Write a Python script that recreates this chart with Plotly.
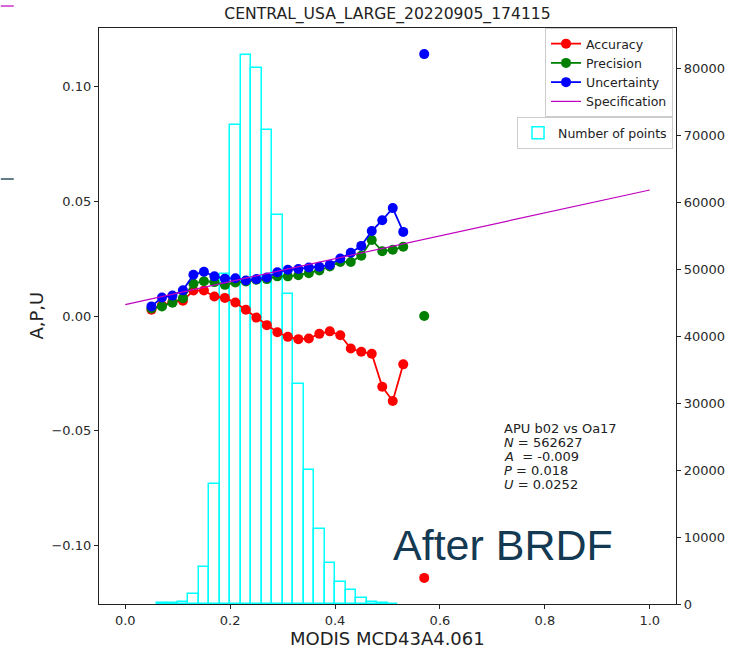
import plotly.graph_objects as go

# ---------------- data ----------------
title_text = "CENTRAL_USA_LARGE_20220905_174115"

x_centres = [0.05, 0.07, 0.09, 0.11, 0.13, 0.15, 0.17, 0.19, 0.21, 0.23, 0.25, 0.27, 0.29,
             0.31, 0.33, 0.35, 0.37, 0.39, 0.41, 0.43, 0.45, 0.47, 0.49, 0.51, 0.53, 0.55, 0.57]

accuracy = [0.0027, 0.0047, 0.0062, 0.0067, 0.0111, 0.0111, 0.0085, 0.0079, 0.0059, 0.0027,
            -0.0007, -0.0040, -0.0071, -0.0091, -0.0101, -0.0098, -0.0078, -0.0067, -0.0084,
            -0.0142, -0.0156, -0.0165, -0.0309, -0.0371, -0.0211, None, -0.1143]

precision = [0.0033, 0.0042, 0.0058, 0.0078, 0.0141, 0.0152, 0.0148, 0.0136, 0.0146, 0.0151,
             0.0158, 0.0161, 0.0173, 0.0173, 0.0178, 0.0187, 0.0199, 0.0216, 0.0236, 0.0236,
             0.0263, 0.0332, 0.0283, 0.0289, 0.0302, None, 0.0000]

uncertainty = [0.0042, 0.0081, 0.0089, 0.0112, 0.0180, 0.0193, 0.0173, 0.0163, 0.0165, 0.0155,
               0.0161, 0.0168, 0.0191, 0.0202, 0.0205, 0.0212, 0.0215, 0.0223, 0.0251, 0.0276,
               0.0306, 0.0371, 0.0418, 0.0471, 0.0367, None, 0.1143]

spec_x = [0.0, 1.0]
spec_y = [0.005, 0.055]

hist_bin_left = [0.06, 0.08, 0.10, 0.12, 0.14, 0.16, 0.18, 0.20, 0.22, 0.24, 0.26, 0.28,
                 0.30, 0.32, 0.34, 0.36, 0.38, 0.40, 0.42, 0.44, 0.46, 0.48, 0.50]
hist_counts = [100, 200, 300, 1450, 5500, 18000, 49400, 71600, 82000, 80100, 70800, 58200,
               46400, 32900, 20000, 11200, 6100, 3300, 2100, 850, 250, 80, 30]

stats_lines = ["APU b02 vs Oa17", "<i>N</i> = 562627", "<i>A</i>\u00a0 = -0.009",
               "<i>P</i> = 0.018", "<i>U</i> = 0.0252"]

# ---------------- layout geometry ----------------
W, H = 737, 649
L, R, T, B = 99, 56, 28, 45
PW, PH = W - L - R, H - T - B


def px_x(px):
    return (px - L) / PW


def px_y(py):
    return (H - B - py) / PH


FONT = "DejaVu Sans"
fig = go.Figure()

# histogram (right axis, drawn underneath)
fig.add_trace(go.Bar(
    x=hist_bin_left, y=hist_counts, width=0.02, offset=0,
    marker=dict(color="rgba(0,0,0,0)", line=dict(color="#00FFFF", width=1.5)),
    name="Number of points", legend="legend2", yaxis="y", xaxis="x",
))

for name, vals, col in [("Accuracy", accuracy, "#FF0000"),
                        ("Precision", precision, "#008000"),
                        ("Uncertainty", uncertainty, "#0000FF")]:
    fig.add_trace(go.Scatter(
        x=x_centres, y=vals, mode="lines+markers", name=name,
        line=dict(color=col, width=1.8), marker=dict(color=col, size=10),
        yaxis="y2", legend="legend", connectgaps=False,
    ))

fig.add_trace(go.Scatter(
    x=spec_x, y=spec_y, mode="lines", name="Specification",
    line=dict(color="#BF00BF", width=1.2), yaxis="y2", legend="legend",
))

axis_common = dict(showgrid=False, zeroline=False, showline=True, linecolor="#222",
                   linewidth=1.2, ticks="outside", ticklen=4, tickcolor="#222",
                   tickfont=dict(family=FONT, size=13, color="#2a2a2a"))

fig.update_layout(
    width=W, height=H,
    margin=dict(l=L, r=R, t=T, b=B, pad=0),
    paper_bgcolor="white", plot_bgcolor="white",
    showlegend=True,
    title=dict(text=title_text, x=0.5, xref="paper", xanchor="center",
               y=1 - 14 / H, yref="container", yanchor="middle",
               font=dict(family=FONT, size=15.6, color="#222")),
    xaxis=dict(range=[-0.05, 1.05], dtick=0.2, tick0=0, tickformat=".1f",
               mirror=True, **axis_common),
    yaxis=dict(range=[0, 86100], dtick=10000, tick0=0, tickformat="d", side="right",
               **axis_common),
    yaxis2=dict(range=[-0.1257, 0.1257], dtick=0.05, tick0=0, tickformat=".2f",
                side="left", overlaying="y", **axis_common),
    legend=dict(x=px_x(678), y=px_y(28), xanchor="right", yanchor="top",
                bgcolor="rgba(255,255,255,0.85)", bordercolor="#cccccc", borderwidth=1,
                font=dict(family=FONT, size=12.5, color="#222"), tracegroupgap=0,
                itemwidth=30),
    legend2=dict(x=px_x(678), y=px_y(117), xanchor="right", yanchor="top",
                 bgcolor="rgba(255,255,255,0.85)", bordercolor="#cccccc", borderwidth=1,
                 font=dict(family=FONT, size=12.5, color="#222")),
    bargap=0,
)

annotations = [
    dict(text="MODIS MCD43A4.061", x=0.5, y=px_y(638), xref="paper", yref="paper",
         xanchor="center", yanchor="middle", showarrow=False,
         font=dict(family=FONT, size=18, color="#222")),
    dict(text="A,P,U", x=px_x(35), y=0.5, xref="paper", yref="paper", textangle=-90,
         xanchor="center", yanchor="middle", showarrow=False,
         font=dict(family=FONT, size=18, color="#222")),
    dict(text="After BRDF", x=px_x(394), y=px_y(545), xref="paper", yref="paper",
         xanchor="left", yanchor="middle", showarrow=False,
         font=dict(family="Liberation Sans", size=43, color="#133A52")),
]
for i, line in enumerate(stats_lines):
    annotations.append(dict(text=line, x=px_x(505), y=px_y(428 + 14 * i), xref="paper",
                            yref="paper", xanchor="left", yanchor="middle", showarrow=False,
                            font=dict(family=FONT, size=13, color="#222")))
fig.update_layout(annotations=annotations)

# small slide artefacts at the left edge
fig.update_layout(shapes=[
    dict(type="line", xref="paper", yref="paper", x0=px_x(0), x1=px_x(13),
         y0=px_y(6), y1=px_y(6), line=dict(color="#CC33CC", width=1.5)),
    dict(type="line", xref="paper", yref="paper", x0=px_x(0), x1=px_x(13),
         y0=px_y(179), y1=px_y(179), line=dict(color="#2F5260", width=1.5)),
])

fig.write_html("out.html")
